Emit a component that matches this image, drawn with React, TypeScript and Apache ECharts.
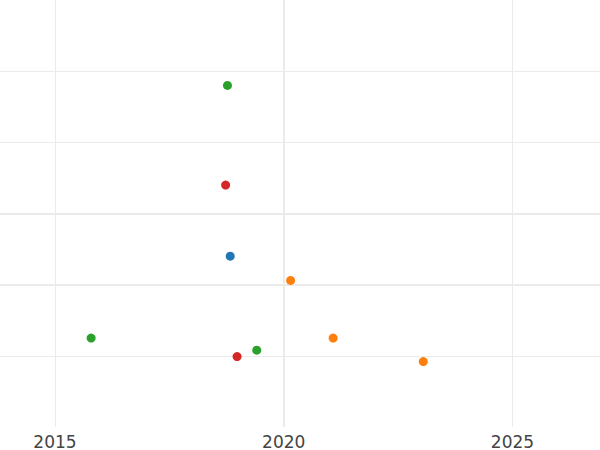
import React, { useEffect, useRef } from "react";
import * as echarts from "echarts";

const xTicks = [2015, 2020, 2025];
const xGridThick = [2020];
const yGrid = [1, 4, 5];
const yGridThick = [2, 3];

const blueX = [2018.83];
const blueY = [2.4];
const orangeX = [2020.15, 2021.08, 2023.05];
const orangeY = [2.06, 1.25, 0.92];
const greenX = [2018.77, 2015.79, 2019.41];
const greenY = [4.8, 1.25, 1.08];
const redX = [2018.73, 2018.98];
const redY = [3.4, 0.99];

const colors = ["#1f77b4", "#ff7f0e", "#2ca02c", "#d62728"];

function pts(xs: number[], ys: number[]) {
  return xs.map((x, i) => [x, ys[i]]);
}

export default function App() {
  const ref = useRef<HTMLDivElement>(null);
  useEffect(() => {
    if (!ref.current) return;
    const chart = echarts.init(ref.current, undefined, { renderer: "svg" });
    const gridColor = "#ebebeb";
    const thin = { width: 1, color: gridColor, type: "solid" };
    const thick = { width: 2, color: gridColor, type: "solid" };
    const seriesDefs = [
      { x: blueX, y: blueY },
      { x: orangeX, y: orangeY },
      { x: greenX, y: greenY },
      { x: redX, y: redY },
    ];
    chart.setOption({
      animation: false,
      backgroundColor: "#ffffff",
      grid: { left: 0, right: 0, top: 0, bottom: 23, containLabel: false },
      xAxis: {
        type: "value",
        min: 2013.798,
        max: 2026.913,
        axisLine: { show: false },
        axisTick: { show: false },
        splitLine: { show: false },
        axisLabel: {
          customValues: xTicks,
          formatter: (v: number) => String(v),
          fontFamily: "DejaVu Sans",
          fontSize: 17,
          color: "#444",
          margin: 6,
        },
      },
      yAxis: {
        type: "value",
        min: 0,
        max: 6,
        interval: 1,
        axisLine: { show: false },
        axisTick: { show: false },
        axisLabel: { show: false },
        splitLine: { show: false },
      },
      series: [
        {
          type: "scatter",
          data: [],
          z: 1,
          silent: true,
          markLine: {
            z: 1,
            silent: true,
            symbol: ["none", "none"],
            label: { show: false },
            animation: false,
            data: [
              ...xTicks
                .filter((v) => !xGridThick.includes(v))
                .map((v) => ({ xAxis: v, lineStyle: thin })),
              ...xGridThick.map((v) => ({ xAxis: v, lineStyle: thick })),
              ...yGrid.map((v) => ({ yAxis: v, lineStyle: thin })),
              ...yGridThick.map((v) => ({ yAxis: v, lineStyle: thick })),
            ],
          },
        },
        ...seriesDefs.map((s, i) => ({
          type: "scatter",
          z: 10,
          symbolSize: 9,
          itemStyle: { color: colors[i], opacity: 1 },
          data: pts(s.x, s.y),
        })),
      ],
    });
    return () => chart.dispose();
  }, []);
  return (
    <div
      ref={ref}
      style={{ position: "fixed", left: 0, top: 0, width: 600, height: 450 }}
    />
  );
}
